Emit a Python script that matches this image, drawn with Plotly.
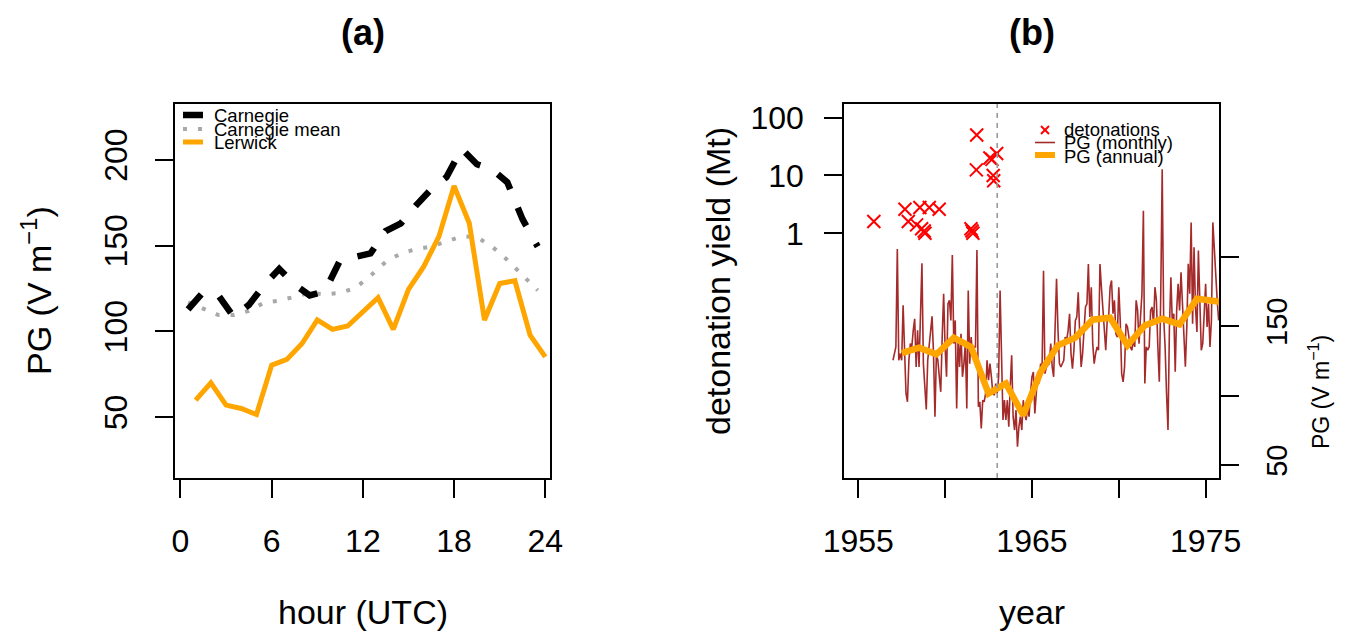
import plotly.graph_objects as go

W, H = 1349, 635


def px(x):
    return x / W


def py(y):
    return 1 - y / H


# ---------------- Panel (a) data ----------------
lerwick_hours = list(range(1, 25))
lerwick_pg = [60.0, 70.1, 57.1, 55.1, 51.6, 80.4, 83.7, 93.0, 106.7, 101.2, 103.2, 111.5,
              119.7, 101.2, 124.6, 137.8, 155.3, 184.8, 163.1, 106.7, 128.0, 129.6, 97.9, 85.2]
carnegie_hours = [h + 0.5 for h in range(24)]
carnegie_pg = [112.9, 123.0, 121.0, 108.5, 115.5, 127.0, 136.5, 127.5, 121.0, 123.5, 141.5, 143.5,
               145.5, 158.5, 163.0, 173.5, 183.0, 190.0, 206.5, 197.5, 194.5, 187.0, 165.5, 149.5]
carnegie_mean_pg = [117.0, 113.0, 109.6, 109.6, 112.0, 116.8, 118.0, 120.2, 122.6, 121.6, 122.5, 125.3,
                    132.5, 140.5, 145.5, 148.0, 149.5, 152.5, 155.5, 155.0, 149.5, 141.7, 133.0, 124.0]
hour_ticks = [0, 6, 12, 18, 24]
pg_ticks_a = [50, 100, 150, 200]

# ---------------- Panel (b) data ----------------
det_year = [1955.90, 1957.69, 1957.88, 1958.36, 1958.55, 1958.65, 1958.80, 1958.84, 1959.09, 1959.66,
            1961.49, 1961.55, 1961.60, 1961.82, 1961.80, 1962.58, 1962.70, 1962.77, 1962.80, 1962.97]
det_yield = [1.6, 2.6, 1.6, 1.4, 2.8, 1.2, 1.1, 1.0, 2.8, 2.6,
             1.2, 1.1, 1.0, 50, 12.5, 20, 19, 10, 8.1, 24]

monthly_start = 1957
pg_monthly = [
    125.4, 130.2, 135.0, 205.5, 125.4, 130.2, 125.4, 164.9, 125.4, 101.5, 95.5, 125.4,
    137.4, 135.0, 146.9, 155.3, 120.6, 146.9, 120.6, 154.1, 195.2, 123.0, 101.5, 90.0,
    125.4, 135.0, 146.9, 157.0, 130.2, 84.8, 130.2, 125.4, 113.5, 102.7, 142.1, 173.2,
    135.0, 113.5, 166.1, 168.5, 154.1, 201.2, 137.4, 154.1, 90.7, 142.1, 120.6, 144.5,
    113.5, 123.0, 137.4, 90.7, 175.6, 123.0, 142.1, 127.8, 135.0, 135.0, 204.8, 91.9,
    95.5, 76.4, 96.7, 95.5, 101.5, 125.4, 111.1, 123.0, 113.5, 101.5, 100.3, 108.7,
    101.5, 113.5, 175.6, 120.6, 82.4, 96.7, 82.4, 96.7, 77.6, 106.3, 129.0, 84.8,
    75.2, 89.5, 63.2, 77.6, 84.8, 75.2, 96.7, 87.1, 82.4, 91.9, 84.8, 101.5,
    113.5, 117.0, 87.1, 101.5, 117.0, 108.7, 123.0, 120.6, 189.9, 115.8, 120.6, 121.8,
    123.0, 137.4, 120.6, 113.5, 149.3, 184.0, 146.9, 123.0, 120.6, 123.0, 125.4, 142.1,
    139.8, 146.9, 158.9, 130.2, 119.4, 132.6, 154.1, 156.5, 174.4, 144.5, 120.6, 130.2,
    146.9, 163.7, 166.1, 194.7, 156.5, 178.0, 137.4, 123.0, 130.2, 135.0, 132.6, 194.7,
    178.0, 163.7, 154.1, 132.6, 154.1, 156.5, 178.0, 182.8, 158.9, 168.5, 144.5, 142.1,
    178.0, 154.1, 115.8, 109.9, 120.6, 151.7, 149.4, 139.8, 135.0, 132.6, 139.8, 135.0,
    168.5, 161.3, 137.4, 156.5, 173.3, 233.0, 108.7, 135.0, 132.6, 135.0, 161.3, 163.7,
    151.7, 178.0, 168.5, 135.0, 109.9, 173.3, 262.9, 156.5, 135.0, 101.5, 75.2, 149.4,
    185.2, 151.7, 158.9, 117.1, 161.3, 180.4, 161.3, 188.8, 168.5, 139.8, 120.7, 149.4,
    194.8, 173.3, 224.6, 151.7, 206.7, 163.7, 145.8, 204.3, 168.5, 132.6, 137.4, 161.3,
    180.4, 149.4, 166.1, 135.0, 154.1, 224.6, 202.0, 185.2, 168.5, 154.1,
]
monthly_year = [monthly_start + i / 12 for i in range(len(pg_monthly))]

annual_year = [y + 0.5 for y in range(1957, 1977)]
pg_annual = [130.6, 134.5, 129.7, 141.7, 134.9, 101.5, 108.7, 85.9, 117.0, 136.2,
             141.7, 154.6, 156.0, 136.2, 150.5, 155.3, 151.2, 169.7, 168.0, 166.0]

treaty_year = 1963
year_ticks = [1955, 1960, 1965, 1970, 1975]
year_ticktext = ["1955", "", "1965", "", "1975"]
yield_ticks = [1, 10, 100]
pg_ticks_b = [50, 100, 150, 200]
pg_ticktext_b = ["50", "", "150", ""]

FONT = "Liberation Sans, Arial, Helvetica, sans-serif"
ORANGE = "#FFA500"
BROWN = "#A52A2A"
GREY_DOT = "#A9A9A9"

fig = go.Figure()

# Panel (a)
fig.add_trace(go.Scatter(x=carnegie_hours, y=carnegie_mean_pg, mode="lines",
                         line=dict(color=GREY_DOT, width=4, dash="4px,11px"),
                         xaxis="x", yaxis="y", showlegend=False))
fig.add_trace(go.Scatter(x=carnegie_hours, y=carnegie_pg, mode="lines",
                         line=dict(color="black", width=6.5, dash="20px,20px"),
                         xaxis="x", yaxis="y", showlegend=False))
fig.add_trace(go.Scatter(x=lerwick_hours, y=lerwick_pg, mode="lines",
                         line=dict(color=ORANGE, width=5),
                         xaxis="x", yaxis="y", showlegend=False))

# Panel (b)
fig.add_trace(go.Scatter(x=monthly_year, y=pg_monthly, mode="lines",
                         line=dict(color=BROWN, width=1.6),
                         xaxis="x2", yaxis="y3", showlegend=False))
fig.add_trace(go.Scatter(x=annual_year, y=pg_annual, mode="lines",
                         line=dict(color=ORANGE, width=6.5),
                         xaxis="x2", yaxis="y3", showlegend=False))
fig.add_trace(go.Scatter(x=det_year, y=det_yield, mode="markers",
                         marker=dict(symbol="x-thin", size=13, color="red",
                                     line=dict(color="red", width=2)),
                         xaxis="x2", yaxis="y2", showlegend=False))

axis_common = dict(showline=True, linecolor="black", linewidth=1.5, mirror=True,
                   ticks="outside", ticklen=18, tickwidth=1.5, tickcolor="black",
                   showgrid=False, zeroline=False, automargin=False,
                   tickfont=dict(family=FONT, size=32, color="black"))

xa = [175, 550]
xb = [844, 1219]
ydom = [py(478), py(104)]

fig.update_layout(
    template="none",
    width=W, height=H,
    margin=dict(l=0, r=0, t=0, b=0, pad=0),
    paper_bgcolor="white", plot_bgcolor="white",
    showlegend=False,
    font=dict(family=FONT, color="black"),
    xaxis=dict(domain=[px(xa[0]), px(xa[1])], range=[-0.36, 24.31], anchor="y",
               tickvals=hour_ticks, ticklabelstandoff=16, **axis_common),
    yaxis=dict(domain=ydom, range=[14.6, 232.6], anchor="x",
               tickvals=pg_ticks_a, tickangle=-90, ticklabelstandoff=15, **axis_common),
    xaxis2=dict(domain=[px(xb[0]), px(xb[1])], range=[1954.18, 1975.77], anchor="y2",
                tickvals=year_ticks, ticktext=year_ticktext, ticklabelstandoff=16, **axis_common),
    yaxis2=dict(domain=ydom, type="log", range=[-4.23, 2.236], anchor="x2",
                tickvals=yield_ticks, ticktext=["1", "10", "100"], ticklabelstandoff=14,
                **axis_common),
    yaxis3=dict(domain=ydom, range=[40.7, 309.8], anchor="x2", overlaying="y2", side="right",
                tickvals=pg_ticks_b, ticktext=pg_ticktext_b, tickangle=-90,
                ticklabelstandoff=13,
                **{**axis_common, "tickfont": dict(family=FONT, size=29, color="black")}),
)

# Vertical dashed line at the test-ban treaty year
fig.add_shape(type="line", xref="x2", yref="y2 domain", x0=treaty_year, x1=treaty_year,
              y0=0, y1=1, line=dict(color="#9a9a9a", width=1.6, dash="5px,5px"))


def text_at(text, x, y, size, xanchor="center", angle=0):
    return dict(text=text, x=px(x), y=py(y), xref="paper", yref="paper",
                xanchor=xanchor, yanchor="middle", textangle=angle, showarrow=False,
                font=dict(family=FONT, size=size, color="black"))


ann = []
# Panel titles
ann.append(text_at("<b>(a)</b>", 362.5, 32, 36))
ann.append(text_at("<b>(b)</b>", 1031.5, 32, 36))
# Axis titles
ann.append(text_at("hour (UTC)", 362.5, 612, 34))
ann.append(text_at("year", 1031.5, 612, 34))
ann.append(text_at("PG (V m<sup>\u22121</sup>)", 36, 291, 34, angle=-90))
ann.append(text_at("detonation yield (Mt)", 718, 281, 34, angle=-90))
ann.append(text_at("PG (V m<sup>\u22121</sup>)", 1319, 392, 23, angle=-90))

# Legend (a)
LEG = 18.5
leg_a = [("Carnegie", 115), ("Carnegie mean", 129), ("Lerwick", 142)]
for label, yy in leg_a:
    ann.append(text_at(label, 212, yy, LEG, xanchor="left"))
fig.add_shape(type="line", xref="paper", yref="paper", x0=px(183), x1=px(203),
              y0=py(115), y1=py(115), line=dict(color="black", width=6.5))
fig.add_shape(type="line", xref="paper", yref="paper", x0=px(183), x1=px(205),
              y0=py(129), y1=py(129), line=dict(color=GREY_DOT, width=4, dash="4px,11px"))
fig.add_shape(type="line", xref="paper", yref="paper", x0=px(183), x1=px(203),
              y0=py(142), y1=py(142), line=dict(color=ORANGE, width=5))

# Legend (b)
leg_b = [("detonations", 130), ("PG (monthly)", 143), ("PG (annual)", 156)]
for label, yy in leg_b:
    ann.append(text_at(label, 1062, yy, LEG, xanchor="left"))
fig.add_shape(type="line", xref="paper", yref="paper", x0=px(1041), x1=px(1049),
              y0=py(126), y1=py(134), line=dict(color="red", width=2))
fig.add_shape(type="line", xref="paper", yref="paper", x0=px(1041), x1=px(1049),
              y0=py(134), y1=py(126), line=dict(color="red", width=2))
fig.add_shape(type="line", xref="paper", yref="paper", x0=px(1035), x1=px(1055),
              y0=py(142.5), y1=py(142.5), line=dict(color=BROWN, width=1.6))
fig.add_shape(type="line", xref="paper", yref="paper", x0=px(1035), x1=px(1055),
              y0=py(155), y1=py(155), line=dict(color=ORANGE, width=6))

fig.update_layout(annotations=ann)

fig.write_html("out.html", config={"displayModeBar": False},
               post_script="document.body.style.margin='0';")
